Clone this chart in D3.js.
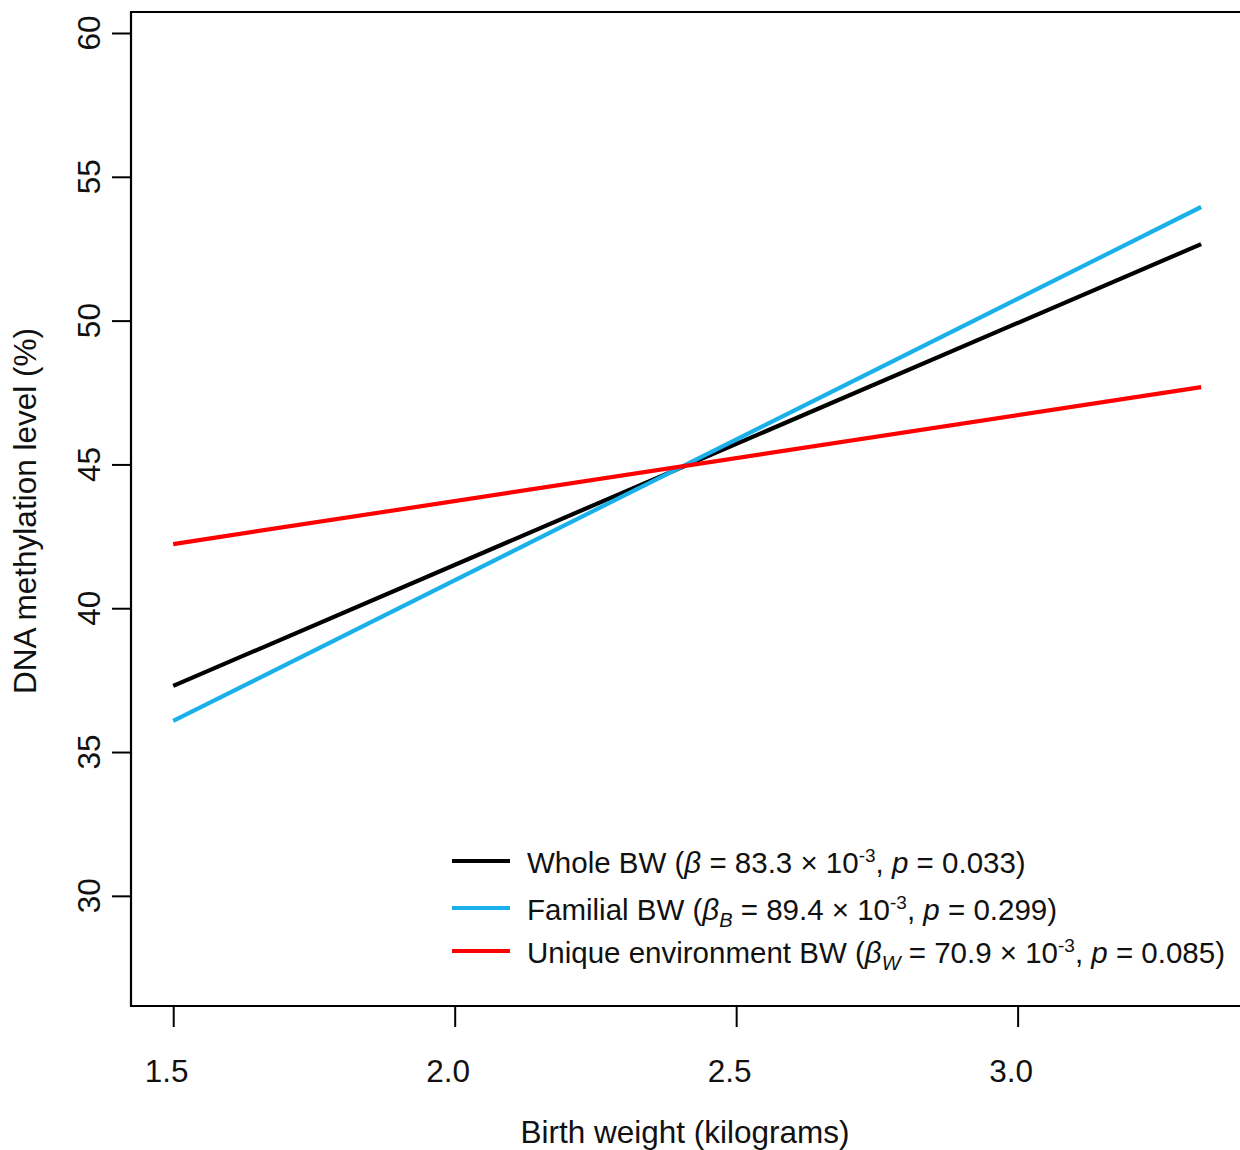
<!DOCTYPE html>
<html><head><meta charset="utf-8">
<script src="https://cdn.jsdelivr.net/npm/d3@7"></script>
<style>body{margin:0;background:#fff}svg{display:block}text{font-family:"Liberation Sans",Arial,sans-serif;fill:#111}</style>
</head><body>
<script>
const xTicks = [1.5, 2.0, 2.5, 3.0];
const yTicks = [30, 35, 40, 45, 50, 55, 60];
const bw = [1.5, 3.326];
const wholeBW = [37.3, 52.66];
const familialBW = [36.08, 53.95];
const uniqueBW = [42.23, 47.69];
const seriesNames = ["Whole", "Familial", "Unique"];
const seriesColors = ["#000000", "#1ab0ea", "#ff0000"];

const W = 1240, H = 1150;
const svg = d3.select("body").append("svg").attr("width", W).attr("height", H);
const x = d3.scaleLinear().domain([1.425, 3.395]).range([131, 1240]);
const y = d3.scaleLinear().domain([26.17, 60.73]).range([1006, 12]);

// box
svg.append("path").attr("d", `M1260,12H131V1006H1260`).attr("fill","none").attr("stroke","#000").attr("stroke-width",2.2);

// axes
const xAxis = svg.append("g").attr("transform","translate(0,1006)")
  .call(d3.axisBottom(x).tickValues(xTicks).tickFormat(d3.format(".1f")).tickSize(21).tickPadding(33));
xAxis.select(".domain").remove();
xAxis.selectAll("line").attr("stroke-width",2);
xAxis.selectAll("text").style("font-size","31.5px").attr("fill","#111").attr("dx","-7");

const yAxis = svg.append("g").attr("transform","translate(131,0)")
  .call(d3.axisLeft(y).tickValues(yTicks).tickSize(19).tickPadding(0));
yAxis.select(".domain").remove();
yAxis.selectAll("line").attr("stroke-width",2);
yAxis.selectAll("text").remove();
yTicks.forEach(t=>{
  svg.append("text").attr("transform",`translate(100,${y(t)}) rotate(-90)`)
    .attr("text-anchor","middle").style("font-size","31.5px").text(t);
});

// titles
svg.append("text").attr("x",685).attr("y",1143).attr("text-anchor","middle").style("font-size","31.5px").text("Birth weight (kilograms)");
svg.append("text").attr("transform","translate(36,511) rotate(-90)").attr("text-anchor","middle").style("font-size","31.5px").text("DNA methylation level (%)");

// lines
const line = d3.line().x((d,i)=>x(bw[i])).y(d=>y(d));
[wholeBW, familialBW, uniqueBW].forEach((s,i)=>{
  svg.append("path").attr("d", line(s)).attr("fill","none").attr("stroke",seriesColors[i]).attr("stroke-width",4.2);
});

// legend
const legY = [861, 908, 951];
const legend = svg.append("g");
legY.forEach((ly,i)=>{
  legend.append("line").attr("x1",452).attr("x2",510).attr("y1",ly).attr("y2",ly).attr("stroke",seriesColors[i]).attr("stroke-width",4.2);
});
function legText(i, label, sub, beta, p){
  const t = legend.append("text").attr("x",527).attr("y",legY[i]+12).style("font-size","29.5px");
  t.append("tspan").text(label + " (");
  t.append("tspan").style("font-style","italic").text("β");
  if (sub) t.append("tspan").style("font-style","italic").style("font-size","20px").attr("dy",7).text(sub);
  t.append("tspan").attr("dy", sub ? -7 : 0).text(" = " + beta + " × 10");
  t.append("tspan").style("font-size","19px").attr("dy",-11).text("-3");
  t.append("tspan").attr("dy",11).text(", ");
  t.append("tspan").style("font-style","italic").text("p");
  t.append("tspan").text(" = " + p + ")");
}
legText(0, "Whole BW", "", "83.3", "0.033");
legText(1, "Familial BW", "B", "89.4", "0.299");
legText(2, "Unique environment BW", "W", "70.9", "0.085");
</script>
</body></html>
